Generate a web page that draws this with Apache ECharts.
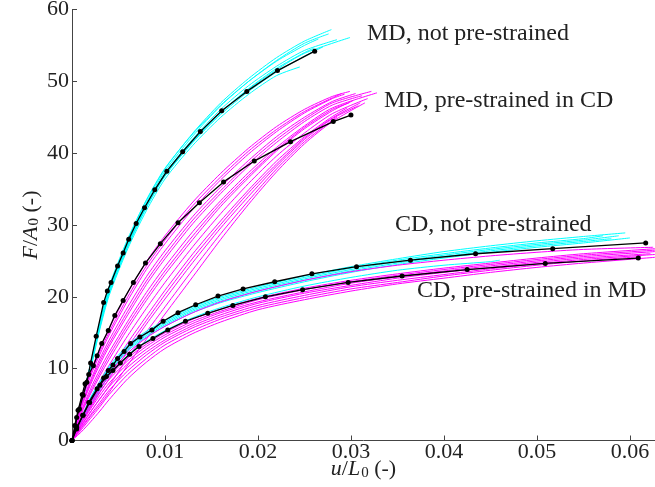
<!DOCTYPE html>
<html>
<head>
<meta charset="utf-8">
<script src="https://cdn.jsdelivr.net/npm/echarts@6/dist/echarts.min.js"></script>
<style>
  html, body { margin: 0; padding: 0; background: #fff; }
  #chart { width: 655px; height: 487px; }
</style>
</head>
<body>
<div id="chart"></div>
<script>
// Force-strain curves, F/A0 against u/L0, for four test groups.

// ---- MD, not pre-strained ----
const mdPlainMean = [[0,0],[0.0004,2.0],[0.0005,3.2],[0.0008,4.4],[0.0012,6.3],[0.0016,8.1],[0.002,10.8],[0.0026,14.5],[0.0034,19.2],[0.0038,20.8],[0.0042,22.0],[0.0049,24.3],[0.0055,26.1],[0.0061,28.0],[0.0069,30.2],[0.0078,32.4],[0.0089,34.9],[0.0102,37.5],[0.0119,40.2],[0.0138,43.0],[0.0161,45.9],[0.0188,48.6],[0.0221,51.5],[0.0261,54.2]];
const mdStrain = [0, 0.001, 0.002, 0.003, 0.004, 0.006, 0.008, 0.010, 0.013, 0.016, 0.019, 0.022, 0.025];
const mdPlainRuns = [
  [0, 5.3, 10.6, 16.5, 21.3, 27.9, 33.4, 37.8, 42.8, 47.0, 50.4, 53.3, 55.6],
  [0, 5.2, 10.5, 16.3, 21.0, 27.6, 33.1, 37.5, 42.4, 46.6, 50.0, 52.9, 55.3],
  [0, 5.1, 10.3, 16.0, 20.8, 27.2, 32.6, 36.9, 41.6, 45.6, 48.9, 51.6, 53.9],
  [0, 5.2, 10.4, 16.2, 20.9, 27.4, 32.8, 37.2, 42.0, 46.1, 49.4, 52.1, 54.3],
  [0, 5.0, 10.1, 15.8, 20.5, 27.0, 32.4, 36.8, 41.5, 45.4, 48.6, 51.3, 53.5],
  [0, 4.9, 9.9, 15.5, 20.2, 26.7, 32.0, 36.4, 41.1, 45.0, 48.2, 50.8],
  [0, 5.3, 10.7, 16.6, 21.5, 28.1, 33.5, 37.9, 42.7, 46.7, 50.0, 52.8, 55.0],
  [0, 5.1, 10.2, 15.9, 20.6, 27.1, 32.5, 36.9, 41.7, 45.7, 49.0, 51.8, 54.0]
];
const mdPlainEnds = [[0.0279,57.2],[0.0276,56.6],[0.0299,56.1],[0.0285,55.8],[0.027,54.8],[0.0245,52.0],[0.0265,55.9],[0.026,54.6]];

// ---- MD, pre-strained in CD ----
const mdPreMean = [[0,0],[0.0003,2.1],[0.00065,4.2],[0.0011,6.4],[0.0014,7.9],[0.0018,9.2],[0.0023,10.4],[0.0027,11.8],[0.0032,13.5],[0.0039,15.3],[0.0046,17.4],[0.0055,19.5],[0.0066,22.0],[0.0079,24.7],[0.0095,27.4],[0.0114,30.3],[0.0137,33.1],[0.0163,36.0],[0.0196,38.9],[0.0235,41.6],[0.0281,44.4],[0.0300,45.3]];
const mdPreStrain = [0, 0.001, 0.002, 0.003, 0.004, 0.006, 0.008, 0.010, 0.013, 0.016, 0.019, 0.022, 0.025, 0.028];
const mdPreRuns = [
  [0, 5.7, 9.6, 12.8, 15.6, 20.6, 24.9, 28.5, 33.2, 37.2, 40.7, 43.7, 46.1, 47.9],
  [0, 5.5, 9.3, 12.4, 15.1, 20.0, 24.3, 27.9, 32.7, 36.7, 40.3, 43.3, 45.8, 47.7],
  [0, 5.3, 9.0, 12.0, 14.7, 19.5, 23.8, 27.4, 32.2, 36.3, 39.9, 43.0, 45.6, 47.6],
  [0, 4.9, 8.4, 11.4, 14.0, 18.6, 22.8, 26.4, 31.2, 35.3, 39.0, 42.3, 45.0, 47.2],
  [0, 4.7, 8.1, 11.0, 13.5, 18.0, 22.2, 25.8, 30.7, 34.8, 38.6, 41.9, 44.7, 47.0],
  [0, 4.5, 7.8, 10.6, 13.1, 17.5, 21.7, 25.3, 30.2, 34.4, 38.2, 41.5, 44.4, 46.7],
  [0, 4.1, 7.2, 9.9, 12.3, 16.6, 20.6, 24.2, 29.1, 33.4, 37.3, 40.8, 43.8, 46.3],
  [0, 3.9, 6.8, 9.4, 11.8, 16.1, 20.0, 23.6, 28.5, 33.0, 36.9, 40.5, 43.6, 46.1],
  [0, 3.7, 6.5, 9.0, 11.3, 15.6, 19.5, 23.1, 28.0, 32.6, 36.6, 40.3, 43.4, 45.9],
  [0, 3.3, 5.9, 8.3, 10.5, 14.6, 18.4, 22.0, 27.0, 31.6, 35.8, 39.6, 42.8, 45.5],
  [0, 2.9, 5.3, 7.6, 9.6, 13.6, 17.3, 20.9, 26.0, 30.6, 34.9, 38.9, 42.3, 45.1],
  [0, 2.7, 4.9, 7.1, 9.1, 13.0, 16.7, 20.3, 25.4, 30.1, 34.5, 38.5, 42.1, 44.9],
  [0, 2.5, 4.6, 6.7, 8.6, 12.5, 16.2, 19.7, 24.8, 29.6, 34.0, 38.2, 41.9, 44.8],
  [0, 2.1, 4.0, 5.8, 7.6, 11.5, 15.1, 18.6, 23.8, 28.8, 33.4, 37.8, 41.6, 44.6],
  [0, 1.7, 3.4, 5.0, 6.7, 10.5, 14.1, 17.6, 22.8, 28.0, 32.9, 37.4, 41.3, 44.4]
];
const mdPreEnds = [[0.0299,48.6],[0.0290,48.3],[0.0293,48.2],[0.0305,48.3],[0.0322,48.6],[0.0312,48.0],[0.0328,48.4],[0.0298,47.0],[0.0302,47.3],[0.0318,47.6],[0.0296,46.3],[0.0310,47.0],[0.0308,46.6],[0.0285,45.0],[0.0315,47.0]];

// ---- CD, not pre-strained ----
const cdPlainMean = [[0,0],[0.0005,1.85],[0.0012,3.5],[0.0018,5.3],[0.0027,7.2],[0.0034,8.7],[0.0039,9.75],[0.0044,10.5],[0.0049,11.4],[0.0056,12.4],[0.0063,13.5],[0.0073,14.4],[0.0086,15.4],[0.0098,16.6],[0.0114,17.8],[0.0133,18.9],[0.0157,20.1],[0.0184,21.1],[0.0218,22.1],[0.0258,23.2],[0.0306,24.2],[0.0364,25.1],[0.0434,26.0],[0.0517,26.7],[0.0617,27.5]];
const cdStrain = [0, 0.001, 0.002, 0.003, 0.004, 0.006, 0.008, 0.010, 0.013, 0.016, 0.020, 0.025, 0.030, 0.035, 0.040, 0.045, 0.050, 0.055];
const cdPlainRuns = [
  [0, 3.1, 6.0, 8.2, 10.3, 13.3, 15.2, 16.7, 18.6, 20.0, 21.4, 22.9, 24.2, 25.3, 26.3, 27.1, 27.8, 28.4],
  [0, 3.0, 5.8, 8.0, 10.1, 13.1, 15.0, 16.5, 18.4, 19.8, 21.2, 22.7, 24.0, 25.1, 26.0, 26.8, 27.5, 28.1],
  [0, 2.9, 5.7, 7.8, 9.9, 12.9, 14.8, 16.3, 18.2, 19.6, 21.0, 22.5, 23.8, 24.9, 25.8, 26.6, 27.3, 27.9],
  [0, 2.8, 5.5, 7.6, 9.7, 12.7, 14.6, 16.1, 18.0, 19.4, 20.8, 22.3, 23.6, 24.7, 25.6, 26.4, 27.1, 27.7],
  [0, 2.7, 5.4, 7.5, 9.5, 12.5, 14.4, 15.9, 17.8, 19.2, 20.6, 22.1, 23.4, 24.5, 25.4, 26.2, 26.9, 27.5],
  [0, 2.6, 5.1, 7.1, 9.0, 11.9, 13.8, 15.3, 17.1, 18.5, 20.0, 21.5, 22.7, 23.7, 24.4, 24.9]
];
const cdPlainEnds = [[0.0595,28.9],[0.0571,28.5],[0.0588,28.5],[0.058,28.1],[0.060,28.2],[0.046,25.1]];

// ---- CD, pre-strained in MD ----
const cdPreMean = [[0,0],[0.0005,1.6],[0.00115,3.5],[0.0019,5.3],[0.003,7.7],[0.0037,8.9],[0.0044,9.75],[0.0052,10.8],[0.0062,12.0],[0.0072,13.1],[0.0087,14.2],[0.0103,15.4],[0.0122,16.6],[0.0146,17.7],[0.0173,18.8],[0.0208,20.0],[0.0248,21.0],[0.0297,22.0],[0.0355,22.9],[0.0425,23.8],[0.0509,24.65],[0.0609,25.4]];
const cdPreRuns = [
  [0, 2.9, 5.3, 7.4, 9.3, 12.2, 14.3, 15.9, 17.8, 19.3, 20.8, 22.3, 23.5, 24.4, 25.1, 25.7, 26.2, 26.6],
  [0, 2.8, 5.2, 7.2, 8.9, 11.5, 13.4, 15.0, 16.9, 18.3, 19.8, 21.2, 22.3, 23.2, 24.0, 24.7, 25.4, 26.0],
  [0, 2.5, 4.8, 6.8, 8.5, 11.1, 13.1, 14.7, 16.6, 18.0, 19.6, 21.0, 22.1, 23.0, 23.8, 24.5, 25.2, 25.8],
  [0, 2.3, 4.4, 6.3, 8.0, 10.7, 12.7, 14.4, 16.3, 17.8, 19.3, 20.7, 21.9, 22.8, 23.6, 24.3, 25.0, 25.6],
  [0, 2.0, 4.0, 5.8, 7.5, 10.2, 12.3, 14.0, 16.0, 17.5, 19.1, 20.5, 21.6, 22.6, 23.4, 24.1, 24.8, 25.4],
  [0, 1.8, 3.6, 5.3, 7.0, 9.7, 11.9, 13.7, 15.7, 17.2, 18.8, 20.2, 21.4, 22.3, 23.1, 23.9, 24.6, 25.2],
  [0, 1.5, 3.1, 4.7, 6.4, 9.2, 11.4, 13.3, 15.3, 16.9, 18.5, 19.9, 21.1, 22.0, 22.9, 23.7, 24.4, 25.0],
  [0, 1.2, 2.6, 4.1, 5.7, 8.6, 10.9, 12.8, 14.9, 16.5, 18.2, 19.6, 20.8, 21.8, 22.6, 23.4, 24.1, 24.7]
];
const cdPreEnds = [[0.0625,26.9],[0.0627,26.7],[0.0627,26.5],[0.0627,26.3],[0.0622,26.0],[0.0627,25.9],[0.0612,25.6],[0.0627,25.5]];

// Axis ticks and annotation texts
const xTicks = [0.01, 0.02, 0.03, 0.04, 0.05, 0.06];
const yTicks = [0, 10, 20, 30, 40, 50, 60];
const groupLabels = ['MD, not pre-strained', 'MD, pre-strained in CD', 'CD, not pre-strained', 'CD, pre-strained in MD'];

const SERIF = '"Liberation Serif", "DejaVu Serif", serif';

function runPoints(strain, ys, end) {
  const pts = ys.map((y, i) => [strain[i], y]);
  pts.push(end);
  return pts;
}

function runSeries(strain, runs, ends, color) {
  return runs.map((ys, k) => ({
    type: 'line',
    data: runPoints(strain, ys, ends[k]),
    showSymbol: false,
    smooth: 0.25,
    silent: true,
    lineStyle: { color: color, width: 1 },
    z: 2
  }));
}

function meanSeries(points) {
  return {
    type: 'line',
    data: points,
    symbol: 'circle',
    symbolSize: 5,
    showSymbol: true,
    silent: true,
    itemStyle: { color: '#000' },
    lineStyle: { color: '#000', width: 1.3 },
    z: 5
  };
}

const series = [].concat(
  runSeries(mdStrain, mdPlainRuns, mdPlainEnds, '#00ffff'),
  runSeries(mdPreStrain, mdPreRuns, mdPreEnds, '#ff00ff'),
  runSeries(cdStrain, cdPlainRuns, cdPlainEnds, '#00ffff'),
  runSeries(cdStrain, cdPreRuns, cdPreEnds, '#ff00ff'),
  [meanSeries(mdPlainMean), meanSeries(mdPreMean), meanSeries(cdPlainMean), meanSeries(cdPreMean)]
);

const labelPos = [[367, 34], [384, 101], [395, 225], [417, 291]];

const nameRich = {
  i: { fontFamily: SERIF, fontSize: 22, fontStyle: 'italic', color: '#222' },
  s: { fontFamily: SERIF, fontSize: 15, color: '#222', verticalAlign: 'bottom', padding: [0, 0, 0, 1] }
};

const chart = echarts.init(document.getElementById('chart'), null, { renderer: 'canvas' });
chart.setOption({
  animation: false,
  backgroundColor: '#fff',
  grid: { left: 72, right: 0, top: 9.5, bottom: 46.5, containLabel: false, outerBoundsMode: 'none' },
  xAxis: {
    type: 'value',
    min: 0,
    max: 0.0627,
    interval: 0.01,
    name: '{i|u}/{i|L}{s|0} (-)',
    nameLocation: 'middle',
    nameGap: 18,
    nameMoveOverlap: false,
    nameTextStyle: { fontFamily: SERIF, fontSize: 22, color: '#222', rich: nameRich },
    axisLine: { show: true, lineStyle: { color: '#444', width: 1 } },
    axisTick: { show: true, inside: true, length: 5, lineStyle: { color: '#444' } },
    splitLine: { show: false },
    axisLabel: {
      fontFamily: SERIF, fontSize: 22, color: '#222', margin: 1,
      showMinLabel: false, showMaxLabel: false,
      formatter: v => {
        const hit = xTicks.find(t => Math.abs(t - v) < 1e-9);
        return hit === undefined ? '' : hit.toFixed(2);
      }
    }
  },
  yAxis: {
    type: 'value',
    min: 0,
    max: 60,
    interval: 10,
    name: '{i|F}/{i|A}{s|0} (-)',
    nameLocation: 'middle',
    nameGap: 30,
    nameMoveOverlap: false,
    nameTextStyle: { fontFamily: SERIF, fontSize: 22, color: '#222', rich: nameRich },
    axisLine: { show: true, lineStyle: { color: '#444', width: 1 } },
    axisTick: { show: true, inside: true, length: 5, lineStyle: { color: '#444' } },
    splitLine: { show: false },
    axisLabel: {
      fontFamily: SERIF, fontSize: 22, color: '#222', margin: 3,
      formatter: v => (yTicks.indexOf(v) >= 0 ? String(v) : '')
    }
  },
  graphic: groupLabels.map((t, i) => ({
    type: 'text',
    x: labelPos[i][0],
    y: labelPos[i][1],
    silent: true,
    style: {
      text: t,
      font: '24px ' + SERIF,
      fill: '#222',
      align: 'left',
      verticalAlign: 'middle'
    }
  })),
  series: series
});
</script>
</body>
</html>
